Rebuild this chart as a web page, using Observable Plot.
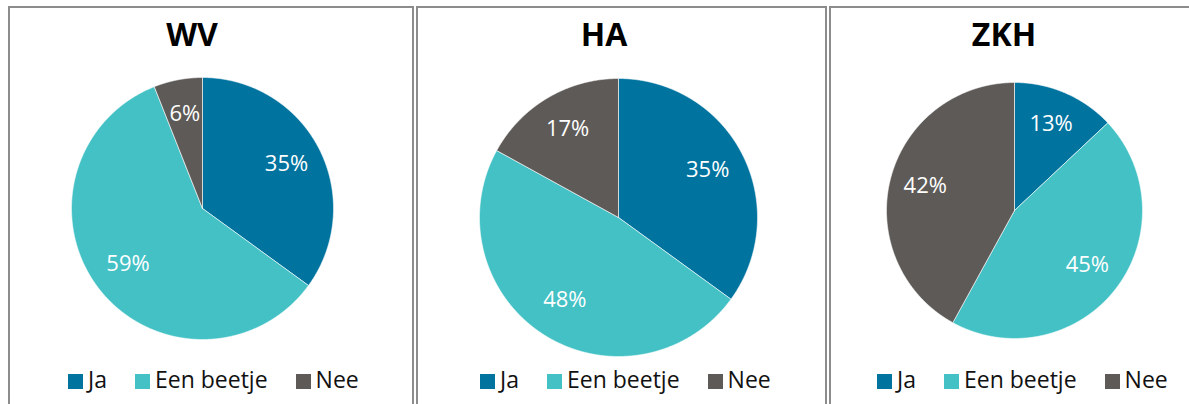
<!DOCTYPE html>
<html>
<head>
<meta charset="utf-8">
<script src="https://cdn.jsdelivr.net/npm/d3@7"></script>
<script src="https://cdn.jsdelivr.net/npm/@observablehq/plot@0.6"></script>
<style>
  html, body { margin: 0; padding: 0; background: #fff; }
  #page { position: relative; width: 1189px; height: 404px; overflow: hidden; font-family: "Open Sans", sans-serif; }
  .panel { position: absolute; top: 6px; height: 420px; border: 2px solid #8c8c8c; box-sizing: border-box; }
  .title { position: absolute; top: 18px; font: bold 32px/32px "Open Sans", sans-serif; color: #000; transform: translateX(-50%); white-space: nowrap; }
  .pie { position: absolute; }
  .legend { position: absolute; top: 368px; height: 23px; display: flex; align-items: flex-start; font: 23px/23px "Open Sans", sans-serif; color: #111; white-space: nowrap; }
  .legend .item { display: inline-flex; align-items: flex-start; margin-right: 28px; }
  .legend .item:last-child { margin-right: 0; }
  .legend .sw { width: 15px; height: 15px; margin-top: 6px; margin-right: 5px; }
</style>
</head>
<body>
<div id="page"></div>
<script>
// ---- data ----
const panelNames = ["WV", "HA", "ZKH"];
const categories = ["Ja", "Een beetje", "Nee"];
const wvValues = [35, 59, 6];
const haValues = [35, 48, 17];
const zkhValues = [13, 45, 42];
const colors = ["#00739f", "#43c1c5", "#5e5a57"];

// ---- layout (page pixels) ----
const layout = [
  {values: wvValues,  box: [8, 414],   cx: 202,  cy: 208, r: 131, titleX: 192,  legendX: 68},
  {values: haValues,  box: [416, 827], cx: 618,  cy: 217, r: 139, titleX: 604,  legendX: 480},
  {values: zkhValues, box: [829, 1250], cx: 1014, cy: 210, r: 128, titleX: 1004, legendX: 877}
];

const page = document.getElementById("page");
const pad = 4;

layout.forEach((p, i) => {
  const panel = document.createElement("div");
  panel.className = "panel";
  panel.style.left = p.box[0] + "px";
  panel.style.width = (p.box[1] - p.box[0]) + "px";
  page.appendChild(panel);

  const title = document.createElement("div");
  title.className = "title";
  title.style.left = p.titleX + "px";
  title.textContent = panelNames[i];
  page.appendChild(title);

  // pie geometry from data
  const rows = categories.map((c, k) => ({cat: c, value: p.values[k]}));
  const arcs = d3.pie().sort(null).value(d => d.value)(rows);
  const pts = [];
  const labels = [];
  arcs.forEach(a => {
    const steps = Math.max(2, Math.ceil((a.endAngle - a.startAngle) / (Math.PI / 720)));
    pts.push({cat: a.data.cat, x: 0, y: 0});
    for (let s = 0; s <= steps; s++) {
      const t = a.startAngle + (a.endAngle - a.startAngle) * s / steps;
      pts.push({cat: a.data.cat, x: Math.sin(t), y: Math.cos(t)});
    }
    pts.push({cat: a.data.cat, x: 0, y: 0});
    const m = (a.startAngle + a.endAngle) / 2;
    labels.push({cat: a.data.cat, x: 0.72 * Math.sin(m), y: 0.72 * Math.cos(m), text: a.data.value + "%"});
  });

  const size = 2 * p.r + 2 * pad;
  const chart = Plot.plot({
    width: size,
    height: size,
    margin: pad,
    x: {domain: [-1, 1], axis: null},
    y: {domain: [-1, 1], axis: null},
    color: {domain: categories, range: colors},
    style: {background: "transparent", overflow: "visible"},
    marks: [
      Plot.line(pts, {x: "x", y: "y", z: "cat", fill: "cat", stroke: "#ffffff", strokeWidth: 0.6, strokeLinejoin: "round"}),
      Plot.text(labels, {x: "x", y: "y", text: "text", fill: "white", fontSize: 22, fontFamily: "Open Sans", dy: -2})
    ]
  });
  chart.classList.add("pie");
  chart.style.left = (p.cx - p.r - pad) + "px";
  chart.style.top = (p.cy - p.r - pad) + "px";
  page.appendChild(chart);

  const legend = document.createElement("div");
  legend.className = "legend";
  legend.style.left = p.legendX + "px";
  categories.forEach((c, k) => {
    const item = document.createElement("span");
    item.className = "item";
    const sw = document.createElement("span");
    sw.className = "sw";
    sw.style.background = colors[k];
    const tx = document.createElement("span");
    tx.textContent = c;
    item.appendChild(sw);
    item.appendChild(tx);
    legend.appendChild(item);
  });
  page.appendChild(legend);
});
</script>
</body>
</html>
